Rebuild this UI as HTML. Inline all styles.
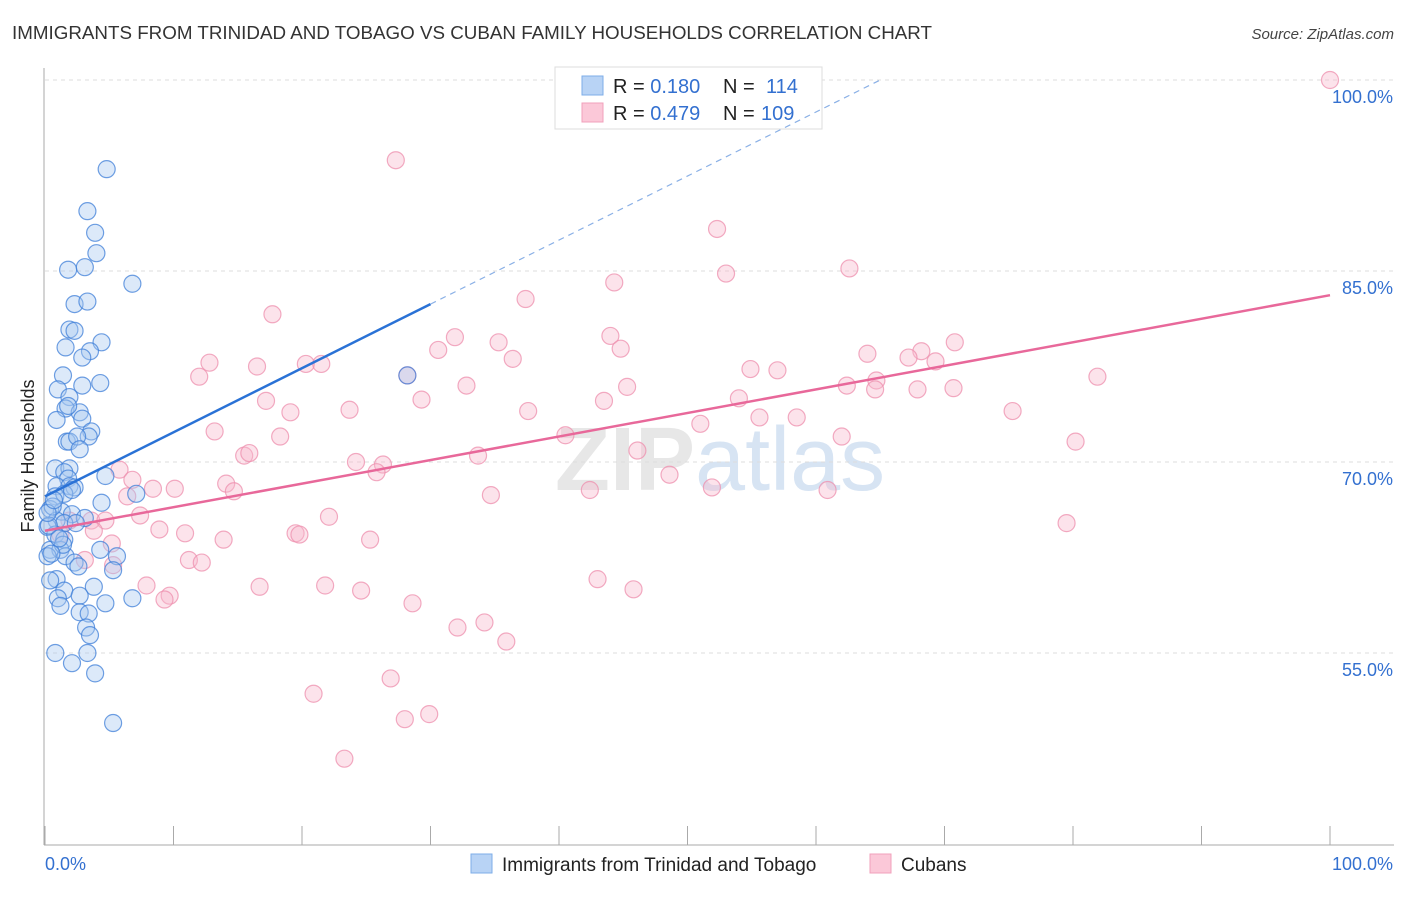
<!DOCTYPE html>
<html><head><meta charset="utf-8">
<style>
body{margin:0;background:#fff;font-family:"Liberation Sans",sans-serif;}
svg text{font-family:"Liberation Sans",sans-serif;}
</style></head>
<body>
<svg id="chart" width="1406" height="892" xmlns="http://www.w3.org/2000/svg">
<text x="12" y="39" font-size="18" fill="#333" textLength="920" lengthAdjust="spacingAndGlyphs">IMMIGRANTS FROM TRINIDAD AND TOBAGO VS CUBAN FAMILY HOUSEHOLDS CORRELATION CHART</text>
<text x="1394" y="39" font-size="15" fill="#444" text-anchor="end" font-style="italic">Source: ZipAtlas.com</text>
<text x="555" y="490" font-size="90" fill="#ddd" font-family="Liberation Serif" font-weight="bold" opacity="0.7">ZIP<tspan fill="#c7d9ef" font-family="Liberation Sans" font-weight="normal">atlas</tspan></text>
<g id="grid"></g>
<g id="axes"></g>
<g id="trends"></g>
<g id="points"></g>
<text transform="translate(34,456) rotate(-90)" font-size="18" fill="#222" text-anchor="middle">Family Households</text>
<g>
<rect x="555" y="67" width="267" height="62" fill="#fff" stroke="#ddd"/>
<rect x="582" y="76" width="21" height="19" fill="#b8d3f5" stroke="#7eaee8"/>
<rect x="582" y="103" width="21" height="19" fill="#fbc8d8" stroke="#f0a0bb"/>
<text x="613" y="93" font-size="20" fill="#222">R = <tspan fill="#3370d0">0.180</tspan><tspan x="723">N = </tspan><tspan x="766" fill="#3370d0">114</tspan></text>
<text x="613" y="120" font-size="20" fill="#222">R = <tspan fill="#3370d0">0.479</tspan><tspan x="723">N = </tspan><tspan x="761" fill="#3370d0">109</tspan></text>
</g>
<g>
<rect x="471" y="854" width="21" height="19" fill="#b8d3f5" stroke="#7eaee8"/>
<text x="502" y="871" font-size="19" fill="#222">Immigrants from Trinidad and Tobago</text>
<rect x="870" y="854" width="21" height="19" fill="#fbc8d8" stroke="#f0a0bb"/>
<text x="901" y="871" font-size="19" fill="#222">Cubans</text>
</g>
</svg>
<script>
const yTicks=[100,85,70,55];
const xTickLabels=["0.0%","100.0%"];
const blueX=[4.8,3.3,3.9,4.0,1.8,3.1,6.8,2.3,3.3,1.9,2.3,4.4,1.6,3.5,2.9,4.3,1.4,1.0,2.9,1.9,1.6,2.7,0.9,1.8,2.9,3.6,1.7,1.9,3.4,2.5,2.7,0.8,1.9,1.5,1.8,4.7,0.9,1.9,2.3,0.8,1.5,2.1,7.1,4.4,0.4,1.3,2.1,3.1,0.9,1.5,0.2,2.4,0.8,1.5,0.4,1.2,1.6,0.2,4.3,5.6,2.3,2.6,5.3,3.8,0.9,1.5,2.7,1.0,4.7,6.8,1.2,2.7,3.4,3.2,3.5,0.8,3.3,2.1,3.9,5.3,28.2,0.4,1.4,0.3,0.6,1.1,0.5,0.2,0.7];
const blueY=[93.0,89.7,88.0,86.4,85.1,85.3,84.0,82.4,82.6,80.4,80.3,79.4,79.0,78.7,78.2,76.2,76.8,75.7,76.0,75.1,74.2,73.9,73.3,74.4,73.4,72.4,71.6,71.6,72.0,72.0,71.0,69.5,69.5,69.2,68.7,68.9,68.1,68.1,68.0,67.3,67.5,67.8,67.5,66.8,66.3,66.1,65.9,65.6,65.4,65.2,64.9,65.2,64.3,63.9,63.1,63.1,62.6,62.6,63.1,62.6,62.1,61.8,61.5,60.2,60.8,59.9,59.5,59.3,58.9,59.3,58.7,58.2,58.1,57.0,56.4,55.0,55.0,54.2,53.4,49.5,76.8,60.7,63.5,65.0,66.5,64.0,62.8,66.0,67.0];
const pinkX=[100,27.3,52.3,53.0,62.6,44.3,37.4,17.7,31.9,44.0,35.3,44.8,30.6,70.8,36.4,64.0,68.2,67.2,69.3,12.8,20.3,21.5,16.5,54.9,57.0,12.0,28.2,45.3,32.8,81.9,62.4,64.7,64.6,67.9,70.7,29.3,17.2,43.5,54.0,23.7,19.1,37.6,75.3,55.6,58.5,51.0,13.2,40.5,18.3,62.0,80.2,15.5,15.9,46.1,33.7,24.2,26.3,25.8,5.8,48.6,6.8,14.1,42.4,51.9,60.9,14.7,8.4,10.1,34.7,6.4,7.4,22.1,3.6,4.7,8.9,10.9,19.5,19.8,13.9,25.3,3.8,5.2,11.2,12.2,5.3,16.7,21.8,24.6,43.0,45.8,7.9,9.7,9.3,28.6,32.1,34.2,35.9,79.5,20.9,26.9,29.9,28.0,23.3,1.9,1.2,3.1];
const pinkY=[100,93.7,88.3,84.8,85.2,84.1,82.8,81.6,79.8,79.9,79.4,78.9,78.8,79.4,78.1,78.5,78.7,78.2,77.9,77.8,77.7,77.7,77.5,77.3,77.2,76.7,76.8,75.9,76.0,76.7,76.0,76.4,75.7,75.7,75.8,74.9,74.8,74.8,75.0,74.1,73.9,74.0,74.0,73.5,73.5,73.0,72.4,72.1,72.0,72.0,71.6,70.5,70.7,70.9,70.5,70.0,69.8,69.2,69.4,69.0,68.6,68.3,67.8,68.0,67.8,67.7,67.9,67.9,67.4,67.3,65.8,65.7,65.4,65.4,64.7,64.4,64.4,64.3,63.9,63.9,64.6,63.6,62.3,62.1,61.9,60.2,60.3,59.9,60.8,60.0,60.3,59.5,59.2,58.9,57.0,57.4,55.9,65.2,51.8,53.0,50.2,49.8,46.7,65.4,64.3,62.3];
const blueTrend=[[0,67.3],[30,82.4]];
const blueTrendExt=[[30,82.4],[65,100]];
const pinkTrend=[[0,64.6],[100,83.1]];

const NS="http://www.w3.org/2000/svg";
const xs=v=>45+v*12.85;
const ys=v=>80+(100-v)*12.733;
function mk(tag,attrs,parent){const e=document.createElementNS(NS,tag);for(const k in attrs)e.setAttribute(k,attrs[k]);parent.appendChild(e);return e;}
const grid=document.getElementById('grid'),axes=document.getElementById('axes'),trends=document.getElementById('trends'),pts=document.getElementById('points');
yTicks.forEach(t=>{
  const l=mk('line',{x1:45,x2:1394,y1:ys(t),y2:ys(t),stroke:'#ddd','stroke-dasharray':'4,4'},grid);
  
  
  const tx=mk('text',{x:1393,y:ys(t)+23,'font-size':18,fill:'#3370d0','text-anchor':'end'},grid);
  tx.textContent=t.toFixed(1)+'%';
  
  
});
const ya=mk('line',{x1:44,x2:44,y1:68,y2:845,stroke:'#aaa'},axes);


const xa=mk('line',{x1:44,x2:1394,y1:845,y2:845,stroke:'#aaa'},axes);


for(let i=0;i<=10;i++){
  const t=mk('line',{x1:xs(i*10),x2:xs(i*10),y1:826,y2:845,stroke:'#aaa'},axes);
  
  
}
const xl0=mk('text',{x:45,y:870,'font-size':18,fill:'#3370d0'},axes);xl0.textContent=xTickLabels[0];


const xl1=mk('text',{x:1393,y:870,'font-size':18,fill:'#3370d0','text-anchor':'end'},axes);xl1.textContent=xTickLabels[1];


function pointsFor(X,Y,fill,stroke,name){
  X.forEach((x,i)=>{
    const c=mk('circle',{cx:xs(x),cy:ys(Y[i]),r:8.5,fill:fill,'fill-opacity':0.4,stroke:stroke,'stroke-opacity':0.75,'stroke-width':1.2},pts);
    
    
  });
}
pointsFor(pinkX,pinkY,'#f8b8cc','#ee8fae','cuban-point');
pointsFor(blueX,blueY,'#a8c8f0','#3f7fd8','trinidad-point');
function line(p,stroke,w,dash,name){
  const l=mk('line',{x1:xs(p[0][0]),y1:ys(p[0][1]),x2:xs(p[1][0]),y2:ys(p[1][1]),stroke:stroke,'stroke-width':w},trends);
  if(dash)l.setAttribute('stroke-dasharray',dash);
  
  
}
const tg=document.getElementById('trends');pts.parentNode.appendChild(tg);
line(pinkTrend,'#e8689a',2.5,null,'cuban-trend-line');
line(blueTrend,'#2a72d6',2.5,null,'trinidad-trend-line');
line(blueTrendExt,'#8ab0e6',1.2,'6,5','trinidad-trend-extension');
</script>
</body></html>
